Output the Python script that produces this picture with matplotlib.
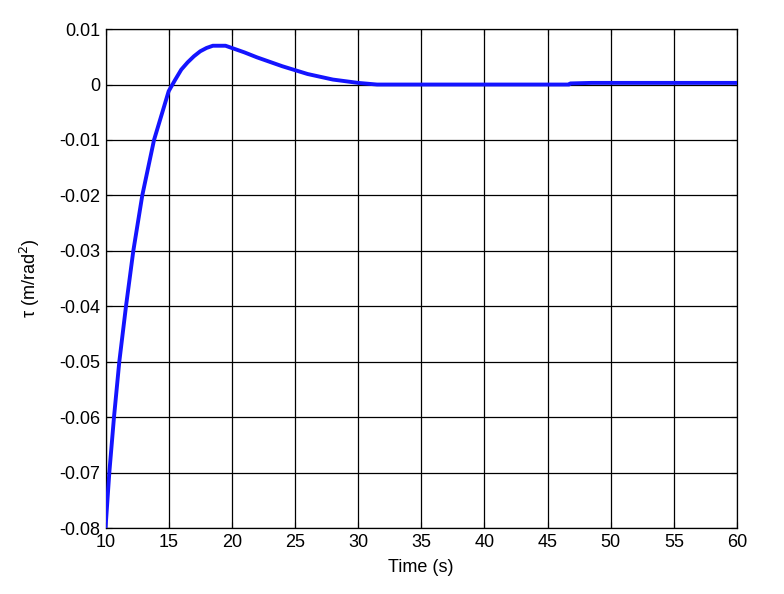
import matplotlib
matplotlib.use("Agg")
import matplotlib.pyplot as plt

plt.rcParams['font.family'] = ['Liberation Sans', 'DejaVu Sans']

# values
time_s = [10, 10.3, 10.67, 11.09, 11.62, 12.2, 12.91, 13.84, 14.5, 15.0, 15.5,
          16.0, 16.5, 17.0, 17.5, 18.0, 18.5, 19.5, 20.0, 21.0, 22.0, 23.0,
          24.0, 25.0, 26.0, 27.0, 28.0, 29.0, 30.0, 31.5, 46.7, 46.8, 48.5, 60]
tau = [-0.08, -0.07, -0.06, -0.05, -0.04, -0.03, -0.02, -0.01, -0.005, -0.0012,
       0.0008, 0.0027, 0.0040, 0.0051, 0.0060, 0.0066, 0.0070, 0.0070, 0.0066,
       0.0058, 0.0049, 0.0041, 0.0033, 0.0026, 0.0019, 0.0014, 0.0009, 0.0006,
       0.0003, 0.0, 0.0, 0.0002, 0.0003, 0.0003]

xticks = list(range(10, 61, 5))
yticks = [-0.08, -0.07, -0.06, -0.05, -0.04, -0.03, -0.02, -0.01, 0, 0.01]
ytick_labels = ['-0.08', '-0.07', '-0.06', '-0.05', '-0.04', '-0.03', '-0.02',
                '-0.01', '0', '0.01']

fig = plt.figure(figsize=(7.84, 5.94), dpi=100)
ax = fig.add_axes([0.1346, 0.111, 0.8054, 0.840])

ax.plot(time_s, tau, color='#1414ff', linewidth=2.8, zorder=3)

ax.set_xlim(10, 60)
ax.set_ylim(-0.08, 0.01)
ax.set_xticks(xticks)
ax.set_yticks(yticks)
ax.set_yticklabels(ytick_labels)
ax.grid(True, color='black', linewidth=0.9, linestyle='-')
ax.tick_params(direction='in', length=4, width=0.8, top=True, right=True,
               labelsize=13, colors='black', pad=4)
for s in ax.spines.values():
    s.set_linewidth(0.9)

ax.set_xlabel('Time (s)', fontsize=13, labelpad=6)
ax.set_ylabel('τ (m/rad$^2$)', fontsize=13, labelpad=12)

fig.savefig('out.png', dpi=100)
